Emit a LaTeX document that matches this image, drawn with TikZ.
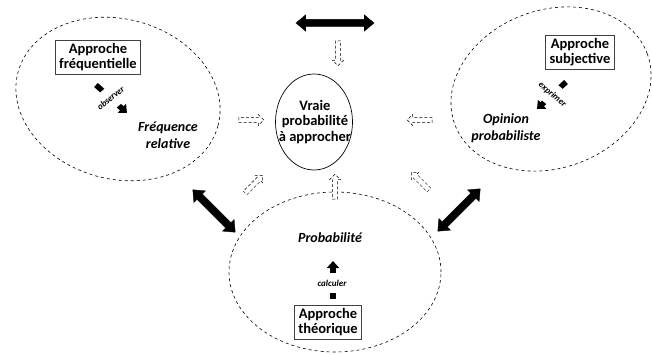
\documentclass[tikz,border=0pt]{standalone}
\usepackage{fontspec}
\setmainfont{Carlito}
\usetikzlibrary{shapes.geometric,shapes.arrows,arrows.meta,calc}
\begin{document}
\begin{tikzpicture}[x=1pt,y=-1pt,
  dashell/.style={ellipse,draw,dashed,line width=0.6pt,inner sep=0pt},
  boxnode/.style={draw=black!75,line width=0.8pt,fill=white,align=center,inner xsep=4pt,inner ysep=3pt,font=\fontsize{14.5}{15.5}\selectfont\bfseries},
  ittext/.style={align=center,font=\fontsize{14}{17}\selectfont\bfseries\itshape},
  bigdbl/.style={double arrow,fill=black,draw=black,inner sep=3.5pt,double arrow head extend=4.5pt,double arrow tip angle=80},
  hollow/.style={single arrow,draw,densely dashed,line width=0.5pt,fill=white,inner sep=2.3pt,single arrow head extend=2.8pt,minimum height=25pt},
  smallarr/.style={line width=5.5pt,-{Triangle[length=7pt,width=12pt]}},
  smalllab/.style={fill=white,inner xsep=1.2pt,inner ysep=0pt,font=\fontsize{9}{10}\selectfont\bfseries\itshape}
]
\useasboundingbox (0,0) rectangle (652,354);
% ellipses
\node[dashell,minimum width=207pt,minimum height=160pt,rotate=-15] (eleft) at (118,99) {};
\node[dashell,minimum width=205pt,minimum height=158pt,rotate=20] (eright) at (551,89) {};
\node[dashell,minimum width=212pt,minimum height=160pt] (ebot) at (335,272) {};
\node[ellipse,draw,line width=0.7pt,minimum width=77pt,minimum height=96pt,inner sep=0pt] (center) at (314,122) {};
\node[align=center,font=\fontsize{14.5}{15.5}\selectfont\bfseries] (ctext) at (315,122) {Vraie\\probabilité\\à approcher};
% boxes
\node[boxnode] (bfreq) at (98,57) {Approche\\fréquentielle};
\node[boxnode] (bsubj) at (580,52) {Approche\\subjective};
\node[boxnode] (btheo) at (328,322) {Approche\\théorique};
% italic texts
\node[ittext] (tfreq) at (168,135) {Fréquence\\relative};
\node[ittext] (topin) at (506,128) {Opinion\\probabiliste};
\node[ittext] (tprob) at (330,238) {Probabilité};
% small arrows
\coordinate (o1) at (96,85);
\coordinate (o2) at (127,113);
\draw[smallarr] (o1) -- (o2);
\node[smalllab,rotate=40,minimum height=22pt] (lobs) at ($(o1)!0.47!(o2)$) {observer};
\coordinate (x1) at (566,82);
\coordinate (x2) at (537,109);
\draw[smallarr] (x1) -- (x2);
\node[smalllab,rotate=-40,minimum height=22pt] (lexp) at ($(x1)!0.47!(x2)$) {exprimer};
\coordinate (c1) at (333,299);
\coordinate (c2) at (333,261);
\draw[smallarr] (c1) -- (c2);
\node[smalllab,minimum height=20pt] (lcal) at (332,283) {calculer};
% big double arrows
\node[bigdbl,minimum height=78pt] (dtop) at (335,23) {};
\node[bigdbl,minimum height=60pt,rotate=-45] (dleft) at (214,211) {};
\node[bigdbl,minimum height=60pt,rotate=45] (dright) at (459,210) {};
% hollow arrows
\node[hollow,rotate=-90] (htop) at (338,52) {};
\node[hollow] (hleft) at (250,120) {};
\node[hollow,rotate=180] (hright) at (421,120) {};
\node[hollow,rotate=45] (hll) at (253,185) {};
\node[hollow,rotate=90] (hbot) at (335,188) {};
\node[hollow,rotate=135] (hlr) at (421,182) {};
\end{tikzpicture}
\end{document}
